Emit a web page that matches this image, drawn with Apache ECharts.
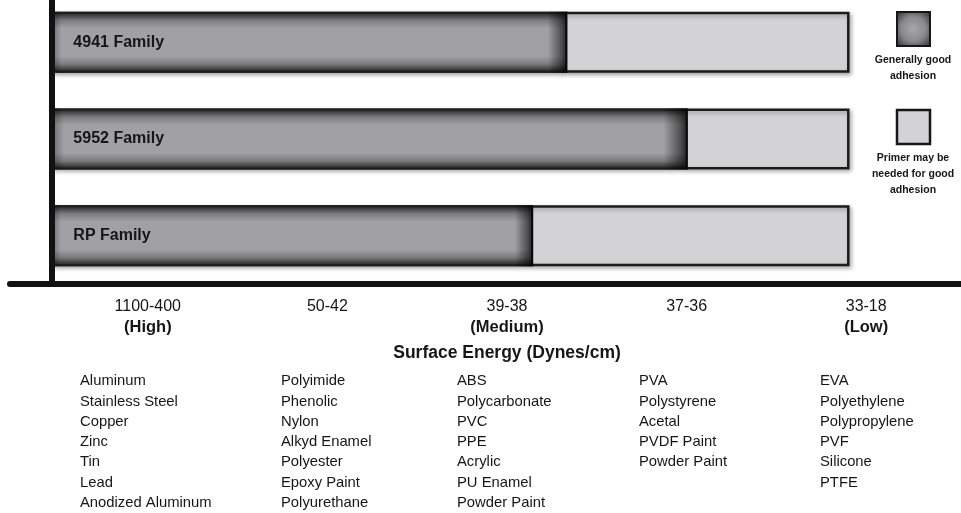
<!DOCTYPE html>
<html>
<head>
<meta charset="utf-8">
<script src="https://cdn.jsdelivr.net/npm/echarts@6/dist/echarts.min.js"></script>
<style>
  html, body { margin: 0; padding: 0; background: #ffffff; }
  #chart { width: 961px; height: 513px; }
</style>
</head>
<body>
<div id="chart"></div>
<script>
// Tape families (top to bottom)
const families = ['4941 Family', '5952 Family', 'RP Family'];
// Where "generally good adhesion" ends, in surface-energy band units from the axis
const goodAdhesionEnd = [2.87, 3.54, 2.68];
// Full extent of the substrate range shown for each family
const rangeEnd = [4.44, 4.44, 4.44];

// Surface energy bands (Dynes/cm)
const energyRanges = ['1100-400', '50-42', '39-38', '37-36', '33-18'];
const energyLevels = ['High', '', 'Medium', '', 'Low'];

// Typical substrates in each band
const bandHigh = ['Aluminum', 'Stainless Steel', 'Copper', 'Zinc', 'Tin', 'Lead', 'Anodized Aluminum'];
const band50 = ['Polyimide', 'Phenolic', 'Nylon', 'Alkyd Enamel', 'Polyester', 'Epoxy Paint', 'Polyurethane'];
const bandMedium = ['ABS', 'Polycarbonate', 'PVC', 'PPE', 'Acrylic', 'PU Enamel', 'Powder Paint'];
const band37 = ['PVA', 'Polystyrene', 'Acetal', 'PVDF Paint', 'Powder Paint'];
const bandLow = ['EVA', 'Polyethylene', 'Polypropylene', 'PVF', 'Silicone', 'PTFE'];

const legendNames = ['Generally good\nadhesion', 'Primer may be\nneeded for good\nadhesion'];

const FONT = "'Liberation Sans', Arial, sans-serif";
const INK = '#161616';

const darkFill = new echarts.graphic.LinearGradient(0, 0, 0, 1, [
  { offset: 0, color: '#1e1e1e' },
  { offset: 0.05, color: '#3c3c3e' },
  { offset: 0.14, color: '#7c7c80' },
  { offset: 0.27, color: '#a1a1a5' },
  { offset: 0.73, color: '#a1a1a5' },
  { offset: 0.86, color: '#7a7a7e' },
  { offset: 0.95, color: '#3a3a3c' },
  { offset: 1, color: '#1e1e1e' }
]);
const edgeShade = new echarts.graphic.LinearGradient(0, 0, 1, 0, [
  { offset: 0, color: 'rgba(0,0,0,0.35)' },
  { offset: 0.02, color: 'rgba(0,0,0,0)' },
  { offset: 0.962, color: 'rgba(0,0,0,0)' },
  { offset: 0.988, color: 'rgba(0,0,0,0.5)' },
  { offset: 1, color: 'rgba(0,0,0,0.8)' }
]);
const lightFill = '#d3d3d5';

const chart = echarts.init(document.getElementById('chart'), null, { renderer: 'canvas' });

const columnX = [80, 281, 457, 639, 820];
const columns = [bandHigh, band50, bandMedium, band37, bandLow];

const listTexts = columns.map((items, i) => ({
  type: 'text',
  x: columnX[i],
  y: 371,
  silent: true,
  style: {
    text: items.join('\n'),
    fill: INK,
    fontFamily: FONT,
    fontSize: 14.8,
    lineHeight: 20.3,
    align: 'left',
    verticalAlign: 'top'
  }
}));

const legendGraphics = [
  {
    type: 'rect', shape: { x: 897, y: 12, width: 33, height: 34 }, silent: true,
    style: {
      fill: new echarts.graphic.RadialGradient(0.5, 0.5, 0.7, [
        { offset: 0, color: '#a8a8ac' },
        { offset: 0.5, color: '#8a8a8e' },
        { offset: 1, color: '#2a2a2a' }
      ]),
      stroke: INK, lineWidth: 2
    }
  },
  {
    type: 'text', x: 913, y: 52, silent: true,
    style: { text: legendNames[0], fill: INK, fontFamily: FONT, fontWeight: 'bold', fontSize: 10.5, lineHeight: 16, align: 'center', verticalAlign: 'top' }
  },
  {
    type: 'rect', shape: { x: 897, y: 110, width: 33, height: 34 }, silent: true,
    style: { fill: lightFill, stroke: INK, lineWidth: 2.5 }
  },
  {
    type: 'text', x: 913, y: 150, silent: true,
    style: { text: legendNames[1], fill: INK, fontFamily: FONT, fontWeight: 'bold', fontSize: 10.5, lineHeight: 16, align: 'center', verticalAlign: 'top' }
  }
];

chart.setOption({
  animation: false,
  backgroundColor: '#ffffff',
  textStyle: { fontFamily: FONT, color: INK },
  grid: [
    { left: 10, right: 0, top: -6, bottom: 229, containLabel: false, outerBoundsMode: 'none' },
    { left: 58, right: 5, top: 284, height: 1, containLabel: false, outerBoundsMode: 'none' }
  ],
  xAxis: [
    {
      type: 'value', gridIndex: 0, min: -0.23, max: 5.06, z: 10,
      axisLine: { show: true, lineStyle: { color: '#111', width: 6 } },
      axisTick: { show: false }, axisLabel: { show: false }, splitLine: { show: false }
    },
    {
      type: 'category', gridIndex: 1, data: energyRanges, position: 'bottom',
      axisLine: { show: false }, axisTick: { show: false }, splitLine: { show: false },
      axisLabel: {
        margin: 11,
        interval: 0,
        color: INK,
        fontFamily: FONT,
        fontSize: 16,
        lineHeight: 21,
        formatter: (v, i) => energyLevels[i] ? v + '\n{lvl|(' + energyLevels[i] + ')}' : v,
        rich: { lvl: { fontFamily: FONT, fontSize: 16.5, fontWeight: 'bold', lineHeight: 21, color: INK } }
      },
      name: 'Surface Energy (Dynes/cm)',
      nameLocation: 'middle',
      nameGap: 59,
      nameTextStyle: { fontFamily: FONT, fontSize: 17.5, fontWeight: 'bold', color: INK }
    }
  ],
  yAxis: [
    {
      type: 'category', gridIndex: 0, data: families, inverse: true, z: 10,
      axisLine: { show: true, onZero: true, lineStyle: { color: '#111', width: 6 } },
      axisTick: { show: false }, axisLabel: { show: false }, splitLine: { show: false }
    },
    { type: 'value', gridIndex: 1, show: false }
  ],
  series: [
    {
      name: 'Primer may be needed for good adhesion',
      type: 'bar', xAxisIndex: 0, yAxisIndex: 0,
      data: rangeEnd, barWidth: 61, barGap: '-100%', silent: true,
      itemStyle: {
        color: lightFill, borderColor: '#1c1c1c', borderWidth: 2.5,
        shadowBlur: 4, shadowOffsetX: 2, shadowOffsetY: 2, shadowColor: 'rgba(0,0,0,0.3)'
      }
    },
    {
      name: 'Generally good adhesion',
      type: 'bar', xAxisIndex: 0, yAxisIndex: 0,
      data: goodAdhesionEnd, barWidth: 61, barGap: '-100%', silent: true,
      itemStyle: { color: darkFill, borderColor: '#1c1c1c', borderWidth: 2 }
    },
    {
      name: 'shade',
      type: 'bar', xAxisIndex: 0, yAxisIndex: 0,
      data: goodAdhesionEnd, barWidth: 61, barGap: '-100%', silent: true,
      itemStyle: { color: edgeShade, borderWidth: 0 },
      label: {
        show: true, position: 'insideLeft', distance: 22,
        formatter: '{b}', color: INK, fontFamily: FONT, fontWeight: 'bold', fontSize: 16
      }
    }
  ],
  graphic: listTexts.concat(legendGraphics)
});
</script>
</body>
</html>
